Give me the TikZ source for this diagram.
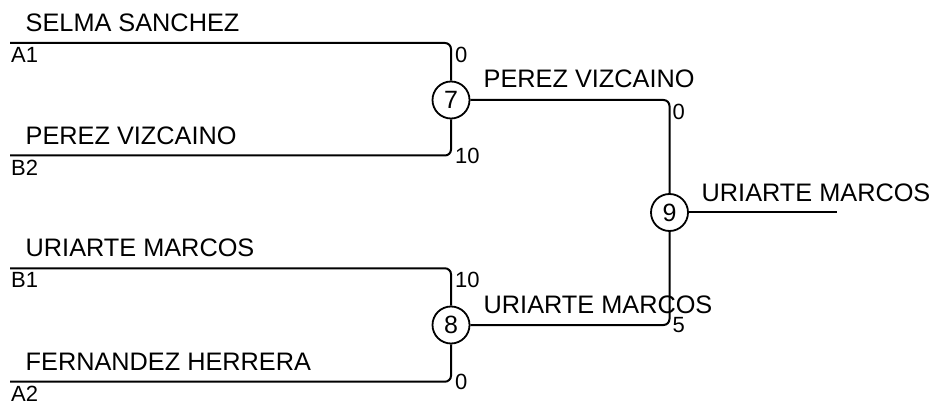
\documentclass[tikz,border=0pt]{standalone}
\usepackage{fontspec}
\setmainfont{Liberation Sans}
\begin{document}
\begin{tikzpicture}[x=1pt,y=-1pt,
  bline/.style={line width=2pt,rounded corners=6pt},
  game/.style={circle,draw,line width=1.8pt,minimum size=37pt,inner sep=0pt,font=\fontsize{25}{25}\selectfont},
  pname/.style={anchor=base west,inner sep=0pt,font=\fontsize{25.3}{26}\selectfont},
  seed/.style={anchor=north west,inner sep=0pt,font=\fontsize{22}{22}\selectfont},
  scoretop/.style={anchor=north west,inner sep=0pt,font=\fontsize{22}{22}\selectfont},
  scorebot/.style={anchor=west,inner sep=0pt,font=\fontsize{22}{22}\selectfont}]
\useasboundingbox (0,0) rectangle (931,403);
% games
\node[game] (g7) at (451,100) {7};
\node[game] (g8) at (451,325) {8};
\node[game] (g9) at (669.5,212.5) {9};
% entry points
\coordinate (a1) at (10,43);
\coordinate (b2) at (10,155.5);
\coordinate (b1) at (10,268.3);
\coordinate (a2) at (10,381.7);
\coordinate (fin) at (837,212.5);
% lines
\draw[bline] (a1) -| (g7.north);
\draw[bline] (b2) -| (g7.south);
\draw[bline] (b1) -| (g8.north);
\draw[bline] (a2) -| (g8.south);
\draw[bline] (g7.east) -| (g9.north);
\draw[bline] (g8.east) -| (g9.south);
\draw[bline] (g9.east) -- (fin);
% player names
\node[pname] (n1) at (25.5,31.5) {SELMA SANCHEZ};
\node[pname] (n2) at (25.5,144.2) {PEREZ VIZCAINO};
\node[pname] (n3) at (25.5,256.8) {URIARTE MARCOS};
\node[pname] (n4) at (25.5,370.2) {FERNANDEZ HERRERA};
\node[pname] (n5) at (483.5,87.5) {PEREZ VIZCAINO};
\node[pname] (n6) at (483.5,313.5) {URIARTE MARCOS};
\node[pname] (n7) at (701.5,201.2) {URIARTE MARCOS};
% seeds
\node[seed] (s1) at (11,47) {A1};
\node[seed] (s2) at (11,159.5) {B2};
\node[seed] (s3) at (11,272.3) {B1};
\node[seed] (s4) at (11,385.7) {A2};
% scores
\node[scoretop] (p1) at (455,47) {0};
\node[scorebot] (p2) at (455,155.5) {10};
\node[scoretop] (p3) at (455,272.3) {10};
\node[scorebot] (p4) at (455,381.7) {0};
\node[scoretop] (p5) at (672.5,104) {0};
\node[scorebot] (p6) at (672.5,325) {5};
\end{tikzpicture}
\end{document}
